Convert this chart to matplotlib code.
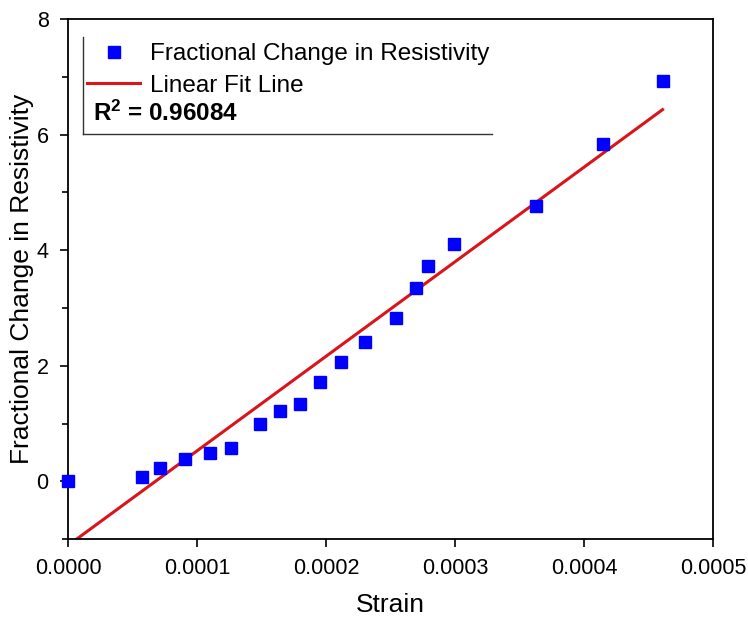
import matplotlib
matplotlib.use('Agg')
import matplotlib.pyplot as plt
import numpy as np

plt.rcParams['font.family'] = ['Liberation Sans', 'DejaVu Sans']
plt.rcParams['mathtext.fontset'] = 'custom'
plt.rcParams['mathtext.rm'] = 'Liberation Sans'
plt.rcParams['mathtext.bf'] = 'Liberation Sans:bold'

# 读图得到的数据
strain = [0.0, 0.0000574, 0.0000713, 0.0000907, 0.000110, 0.000126, 0.000149,
          0.000164, 0.000180, 0.000195, 0.000212, 0.000230, 0.000254, 0.000270,
          0.000279, 0.000299, 0.000363, 0.000415, 0.000461]
resistivity = [0.0, 0.07, 0.23, 0.38, 0.49, 0.57, 0.99, 1.21, 1.33, 1.72,
               2.06, 2.41, 2.82, 3.34, 3.73, 4.11, 4.77, 5.84, 6.93]
fit_slope = 16366.0
fit_intercept = -1.11
r2_text = r'$\mathbf{R^2}$' + ' = 0.96084'

x = np.array(strain)
y = np.array(resistivity)

fig = plt.figure(figsize=(7.48, 6.2), dpi=100)
ax = fig.add_axes([0.091, 0.1306, 0.862, 0.8384])

fit_x = np.array([0.0, x.max()])
line, = ax.plot(fit_x, fit_slope * fit_x + fit_intercept, color='#d9141b', lw=2.2,
                label='Linear Fit Line', zorder=2)
pts, = ax.plot(x, y, 's', color='#0000ff', ms=8.2, mec='#0000ff',
               label='Fractional Change in Resistivity', zorder=3, clip_on=False)

ax.set_xlim(0, 0.0005)
ax.set_ylim(-1, 8)
ax.set_xticks([0, 0.0001, 0.0002, 0.0003, 0.0004, 0.0005])
ax.set_xticklabels(['0.0000', '0.0001', '0.0002', '0.0003', '0.0004', '0.0005'])
ax.set_yticks([0, 2, 4, 6, 8])
ax.set_yticks([-1, 1, 3, 5, 7], minor=True)
ax.tick_params(axis='both', which='major', labelsize=15.5, length=6, width=1.2, direction='out')
ax.tick_params(axis='x', which='major', pad=8)
ax.tick_params(axis='y', which='major', pad=8)
ax.tick_params(axis='y', which='minor', length=4, width=1.2, direction='out')
for s in ax.spines.values():
    s.set_linewidth(1.3)

ax.set_xlabel('Strain', fontsize=19, labelpad=10)
ax.set_ylabel('Fractional Change in Resistivity', fontsize=19, labelpad=2)

leg = ax.legend(handles=[pts, line], loc='upper left', bbox_to_anchor=(0.018, 0.968),
                frameon=False, fontsize=17.5, handlelength=2.2, handletextpad=0.4,
                labelspacing=0.4, borderaxespad=0, borderpad=0.3)
ax.text(0.039, 0.819, r2_text, transform=ax.transAxes, fontsize=17.5,
        fontweight='bold', va='center', ha='left')

# 图例框只画左边和下边
ax.plot([0.023, 0.023], [0.965, 0.779], transform=ax.transAxes, color='#333333', lw=1.0)
ax.plot([0.023, 0.658], [0.779, 0.779], transform=ax.transAxes, color='#333333', lw=1.0)

fig.savefig('out.png', dpi=100)
